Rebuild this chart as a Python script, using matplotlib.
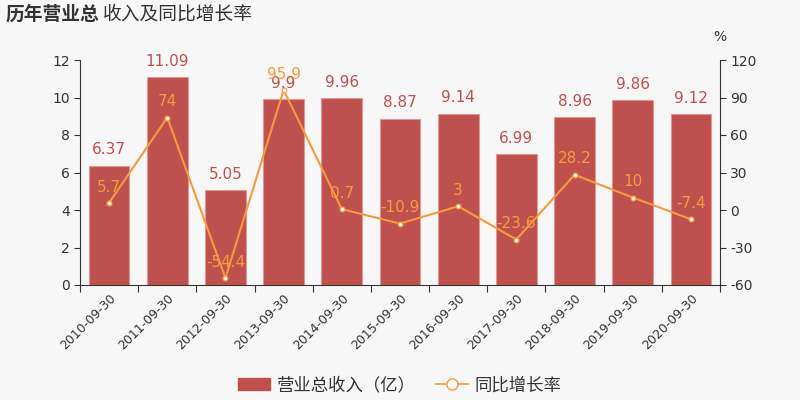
import matplotlib
matplotlib.use("Agg")
import matplotlib.pyplot as plt
from matplotlib.lines import Line2D
from matplotlib.patches import Patch
import numpy as np

plt.rcParams['font.family'] = ['Noto Sans CJK SC', 'DejaVu Sans']
plt.rcParams['axes.unicode_minus'] = False

categories = ["2010-09-30", "2011-09-30", "2012-09-30", "2013-09-30", "2014-09-30",
              "2015-09-30", "2016-09-30", "2017-09-30", "2018-09-30", "2019-09-30", "2020-09-30"]
revenue = [6.37, 11.09, 5.05, 9.9, 9.96, 8.87, 9.14, 6.99, 8.96, 9.86, 9.12]
growth = [5.7, 74, -54.4, 95.9, 0.7, -10.9, 3, -23.6, 28.2, 10, -7.4]
growth_labels = ["5.7", "74", "-54.4", "95.9", "0.7", "-10.9", "3", "-23.6", "28.2", "10", "-7.4"]
revenue_labels = ["6.37", "11.09", "5.05", "9.9", "9.96", "8.87", "9.14", "6.99", "8.96", "9.86", "9.12"]

bg = '#f7f7f7'
bar_c = '#c0504d'
line_c = '#f79a3e'
txt_c = '#333333'

fig = plt.figure(figsize=(8, 4), dpi=100, facecolor=bg)
ax = fig.add_axes([0.1, 0.2875, 0.8, 0.5625], facecolor=bg)
x = np.arange(len(categories))
ax.bar(x, revenue, width=0.7, color=bar_c, edgecolor='#d99a98', linewidth=0.8, zorder=2)
ax.set_xlim(-0.5, len(categories) - 0.5)
ax.set_ylim(0, 12)
ax.set_yticks(range(0, 13, 2))
ax.set_xticks(np.arange(-0.5, len(categories), 1), minor=False)
ax.set_xticklabels([])
ax.set_xticks(x, minor=True)
ax.set_xticklabels(categories, minor=True, rotation=45, ha='right', rotation_mode='anchor',
                   fontsize=9, color=txt_c, family='DejaVu Sans')
ax.tick_params(axis='x', which='minor', length=0, pad=5)
ax.tick_params(axis='x', which='major', length=5, color=txt_c)
ax.tick_params(axis='y', labelsize=10, colors=txt_c, length=4)
for lab in ax.get_yticklabels():
    lab.set_family('DejaVu Sans')
for s in ['top', 'right']:
    ax.spines[s].set_visible(False)
for s in ['left', 'bottom']:
    ax.spines[s].set_color(txt_c)

for xi, v, lab in zip(x, revenue, revenue_labels):
    ax.annotate(lab, (xi, v), xytext=(0, 6), textcoords='offset points', ha='center',
                va='bottom', fontsize=11, color=bar_c, family='DejaVu Sans')

ax2 = ax.twinx()
ax2.set_ylim(-60, 120)
ax2.set_yticks(range(-60, 121, 30))
ax2.plot(x, growth, color=line_c, linewidth=1.5, marker='o', markersize=3.5,
         markerfacecolor='white', markeredgecolor=line_c, markeredgewidth=0.8, zorder=3)
for xi, v, lab in zip(x, growth, growth_labels):
    ax2.annotate(lab, (xi, v), xytext=(0, 6), textcoords='offset points', ha='center',
                 va='bottom', fontsize=11, color=line_c, family='DejaVu Sans')
for s in ['top', 'left', 'bottom']:
    ax2.spines[s].set_visible(False)
ax2.spines['right'].set_color(txt_c)
ax2.tick_params(axis='y', labelsize=10, colors=txt_c, length=4)
for lab in ax2.get_yticklabels():
    lab.set_family('DejaVu Sans')
ax2.text(1.0, 1.07, '%', transform=ax2.transAxes, ha='center', va='bottom', fontsize=10,
         color=txt_c, family='DejaVu Sans')

title1 = fig.text(0.007, 0.965, '历年营业总', fontsize=13.5, fontweight='bold', color=txt_c, va='center')
fig.canvas.draw()
bb = title1.get_window_extent()
fig.text(bb.x1 / 800 + 0.004, 0.965, '收入及同比增长率', fontsize=13.5, color=txt_c, va='center')

handles = [Patch(facecolor=bar_c, edgecolor=bar_c),
           Line2D([0], [0], color=line_c, marker='o', markersize=8, markerfacecolor='white',
                  markeredgecolor=line_c, linewidth=1.2)]
fig.legend(handles, ['营业总收入（亿）', '同比增长率'], loc='center', bbox_to_anchor=(0.5, 0.037),
           ncol=2, frameon=False, fontsize=12.5, handlelength=1.8, columnspacing=1.2,
           labelcolor=txt_c, handletextpad=0.4)

fig.savefig('out.png', dpi=100, facecolor=bg)
